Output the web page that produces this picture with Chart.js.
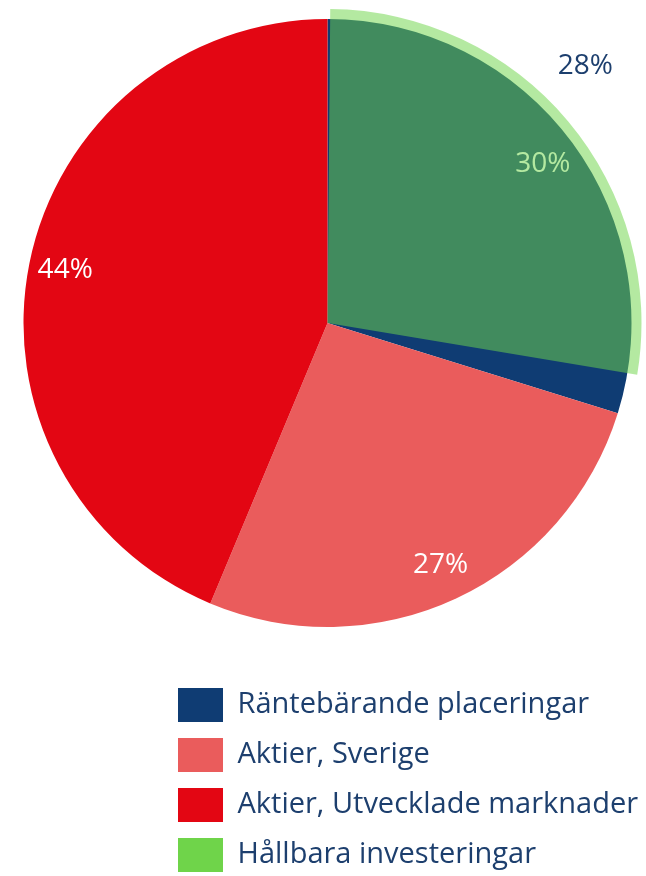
<!DOCTYPE html>
<html>
<head>
<meta charset="utf-8">
<script src="https://cdn.jsdelivr.net/npm/chart.js@4/dist/chart.umd.min.js"></script>
<style>
  body { margin: 0; background: #fff; }
  #wrap { position: relative; width: 646px; height: 876px; }
  #wrap canvas { position: absolute; left: 0; top: 0; }
</style>
</head>
<body>
<div id="wrap">
  <canvas id="piechart" width="646" height="876"></canvas>
  <canvas id="overlaychart" width="646" height="876"></canvas>
</div>
<script>
/* global Chart*/
'use strict';

var categories = ['Räntebärande placeringar', 'Aktier, Sverige', 'Aktier, Utvecklade marknader', 'Hållbara investeringar'];
var portfolioShares = [29.8, 26.5, 43.7, 0];
var sustainableShare = 27.5;

var colors = ['#0f3c73', '#ea5c5c', '#e30613', '#6fd44a'];
var overlayColor = 'rgba(111, 212, 74, 0.52)';
var textBlue = '#1d3f6e';

// percent text on the slices
var sliceLabels = {
  id: 'sliceLabels',
  afterDatasetsDraw: function(chart, args, opts) {
    var ctx = chart.ctx;
    var meta = chart.getDatasetMeta(0);
    var data = chart.data.datasets[0].data;
    var total = data.reduce(function(a, b) { return a + b; }, 0);
    ctx.save();
    ctx.font = '28px "Open Sans"';
    ctx.fillStyle = opts.color;
    ctx.textAlign = 'center';
    ctx.textBaseline = 'middle';
    opts.indices.forEach(function(i) {
      var arc = meta.data[i];
      var a = arc.startAngle + (arc.endAngle - arc.startAngle) * opts.along;
      var r = arc.outerRadius * opts.dist;
      ctx.fillText(Math.round(data[i] / total * 100) + '%', arc.x + Math.cos(a) * r, arc.y + Math.sin(a) * r);
    });
    ctx.restore();
  }
};

// legend sits as a left aligned block under the pie
var legendShift = {
  id: 'legendShift',
  afterLayout: function(chart) {
    var l = chart.legend;
    l.left += 153; l.right += 153;
    l.top += 26; l.bottom += 26;
  }
};

var legendOpts = {
  position: 'bottom',
  align: 'start',
  labels: {
    boxWidth: 45,
    boxHeight: 34,
    padding: 16,
    color: textBlue,
    font: { family: 'Open Sans', size: 29 }
  }
};

// main pie
new Chart(document.getElementById('piechart'), {
  type: 'pie',
  data: {
    labels: categories,
    datasets: [{
      data: portfolioShares,
      backgroundColor: colors,
      borderWidth: 0
    }]
  },
  options: {
    responsive: false,
    animation: false,
    radius: 304,
    layout: { padding: { left: 9, bottom: 20 } },
    plugins: {
      legend: legendOpts,
      tooltip: { enabled: false },
      sliceLabels: { color: '#ffffff', indices: [0, 1, 2], along: 0.5, dist: 0.88 }
    }
  },
  plugins: [sliceLabels, legendShift]
});

// see-through slice for the sustainable part, same layout as the main pie
new Chart(document.getElementById('overlaychart'), {
  type: 'pie',
  data: {
    labels: categories,
    datasets: [{
      data: [0, 0, 0, sustainableShare, 100 - sustainableShare],
      backgroundColor: ['transparent', 'transparent', 'transparent', overlayColor, 'transparent'],
      borderWidth: 0
    }]
  },
  options: {
    responsive: false,
    animation: false,
    radius: 314,
    rotation: 0.5,
    layout: { padding: { left: 9, bottom: 20 } },
    plugins: {
      legend: {
        position: 'bottom',
        align: 'start',
        labels: {
          boxWidth: 45,
          boxHeight: 34,
          padding: 16,
          color: 'transparent',
          font: { family: 'Open Sans', size: 29 },
          generateLabels: function(chart) {
            return Chart.overrides.doughnut.plugins.legend.labels.generateLabels(chart).map(function(item) {
              item.fillStyle = 'transparent';
              item.strokeStyle = 'transparent';
              item.fontColor = 'transparent';
              return item;
            });
          }
        }
      },
      tooltip: { enabled: false },
      sliceLabels: { color: textBlue, indices: [3], along: 0.45, dist: 1.16 }
    }
  },
  plugins: [sliceLabels]
});
</script>
</body>
</html>
